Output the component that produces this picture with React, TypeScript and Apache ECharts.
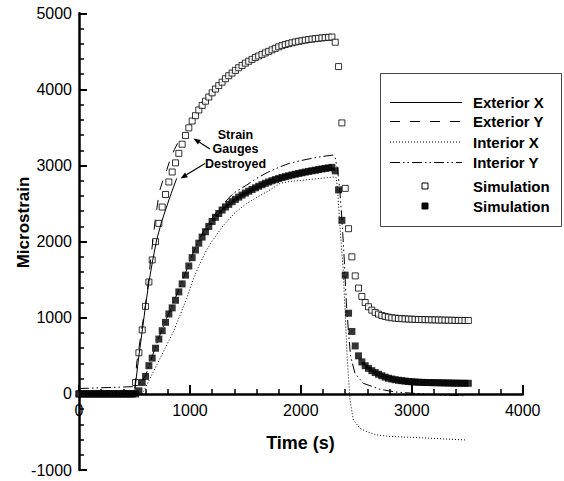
import React, { useEffect, useRef } from "react";
import * as echarts from "echarts";

// ---- data ----
const xTickMin = 0;
const xTickMax = 4000;
const xTickStep = 1000;
const yTickMin = -1000;
const yTickMax = 5000;
const yTickStep = 1000;

const simTime = [
  0, 30, 60, 90, 120, 150, 180, 210, 240, 270, 300, 330, 360, 390, 420, 450, 480,
  510, 540, 570, 600, 630, 660, 690, 720, 750, 780, 810, 840, 870, 900, 930, 960, 990,
  1020, 1050, 1080, 1110, 1140, 1170, 1200, 1230, 1260, 1290, 1320, 1350, 1380, 1410,
  1440, 1470, 1500, 1530, 1560, 1590, 1620, 1650, 1680, 1710, 1740, 1770, 1800, 1830,
  1860, 1890, 1920, 1950, 1980, 2010, 2040, 2070, 2100, 2130, 2160, 2190, 2220, 2250,
  2280, 2310, 2340, 2370, 2400, 2430, 2460, 2490, 2520, 2550, 2580, 2610, 2640, 2670,
  2700, 2730, 2760, 2790, 2820, 2850, 2880, 2910, 2940, 2970, 3000, 3030, 3060, 3090,
  3120, 3150, 3180, 3210, 3240, 3270, 3300, 3330, 3360, 3390, 3420, 3450, 3480, 3510,
];

const simOpen = [
  0, 0, 0, 0, 0, 0, 0, 0, 0, 0, 0, 0, 0, 0, 0, 0, 0,
  150, 540, 840, 1150, 1470, 1760, 2000, 2240, 2455, 2620, 2784, 2915, 3035, 3160, 3280, 3395, 3495,
  3585, 3655, 3730, 3790, 3845, 3900, 3955, 4005, 4050, 4095, 4140, 4180, 4215, 4250,
  4285, 4315, 4345, 4370, 4395, 4420, 4440, 4460, 4480, 4500, 4520, 4540, 4560, 4575,
  4590, 4602, 4613, 4623, 4632, 4640, 4648, 4655, 4661, 4667, 4672, 4677, 4681, 4685,
  4688, 4620, 4300, 3560, 2700, 2170, 1800, 1550, 1390, 1280, 1200, 1145, 1100, 1070,
  1048, 1030, 1017, 1008, 1000, 995, 991, 988, 985, 983, 981, 979, 977, 976,
  975, 974, 973, 972, 971, 970, 969, 968, 967, 966, 965, 965, 964, 964,
];

const simFilled = [
  0, 0, 0, 0, 0, 0, 0, 0, 0, 0, 0, 0, 0, 0, 0, 0, 0,
  0, 40, 150, 230, 370, 470, 600, 720, 830, 940, 1050, 1130, 1230, 1340, 1445, 1560, 1680,
  1790, 1890, 1980, 2060, 2130, 2200, 2265, 2320, 2370, 2415, 2455, 2490, 2525, 2555,
  2585, 2612, 2638, 2662, 2685, 2707, 2728, 2748, 2767, 2784, 2800, 2815, 2829, 2842,
  2854, 2865, 2876, 2886, 2896, 2905, 2914, 2923, 2931, 2939, 2947, 2955, 2962, 2969,
  2976, 2930, 2680, 2280, 1560, 1060, 820, 630, 500, 420, 370, 335, 305, 280,
  258, 238, 220, 206, 195, 186, 179, 173, 168, 163, 159, 156, 153, 151,
  150, 149, 148, 147, 146, 145, 144, 143, 142, 141, 140, 140, 139, 139,
];

const exteriorX = [
  [0, 0], [490, 0], [505, 60], [514, 183], [540, 500], [571, 840], [600, 1160],
  [631, 1474], [665, 1760], [700, 2022], [740, 2240], [782, 2425], [830, 2630], [881, 2832],
];

const exteriorY = [
  [0, 0], [490, 0], [505, 100], [520, 402], [565, 840], [610, 1277], [646, 1759],
  [685, 2262], [724, 2656], [760, 2820], [791, 2941], [820, 3073], [860, 3210], [911, 3358],
];

const interiorX = [
  [0, 0], [540, -10], [570, 0], [630, 171], [705, 391], [780, 610], [855, 830],
  [915, 1049], [975, 1268], [1020, 1470], [1080, 1680], [1140, 1860], [1200, 2010],
  [1300, 2210], [1400, 2370], [1500, 2490], [1600, 2580], [1700, 2660], [1815, 2767],
  [1900, 2790], [2000, 2805], [2100, 2820], [2200, 2835], [2300, 2850], [2320, 2840],
  [2335, 2600], [2350, 2250], [2365, 1950], [2380, 1671], [2400, 1050], [2419, 445],
  [2443, -80], [2473, -343], [2533, -452], [2600, -500], [2684, -540], [2800, -558],
  [2984, -570], [3200, -585], [3495, -606],
];

const interiorY = [
  [0, 70], [100, 75], [200, 80], [300, 85], [400, 90], [480, 95], [510, 100], [540, 130],
  [570, 180], [600, 240], [660, 490], [720, 740], [780, 960], [840, 1160], [900, 1370],
  [960, 1590], [1020, 1820], [1080, 2020], [1140, 2180], [1200, 2310], [1290, 2480],
  [1391, 2635], [1512, 2744], [1600, 2830], [1700, 2910], [1815, 2985], [1900, 3030],
  [2000, 3065], [2100, 3095], [2200, 3120], [2290, 3138], [2310, 3100], [2330, 2950],
  [2350, 2700], [2370, 2300], [2390, 1800], [2410, 1200], [2430, 800], [2449, 489],
  [2488, 271], [2563, 139], [2714, 60], [2850, 25], [3014, 8], [3200, -10], [3465, -24],
];

const legendLabels = ["Exterior X", "Exterior Y", "Interior X", "Interior Y", "Simulation", "Simulation"];
const annotationLines = ["Strain", "Gauges", "Destroyed"];
const xTitle = "Time (s)";
const yTitle = "Microstrain";

const FONT = '"Liberation Sans", Arial, Helvetica, sans-serif';
const DASHED = [10, 10];
const DOTTED = [1, 2];
const DASHDOT = [10, 3, 1.5, 3, 1.5, 3];

// layout
const GRID_LEFT = 79;
const GRID_RIGHT = 41.3;
const GRID_TOP = 13.3;
const GRID_BOTTOM = 11;
const PLOT_H = 481 - GRID_TOP - GRID_BOTTOM;
const ZERO_BOTTOM = GRID_BOTTOM + (PLOT_H * (0 - yTickMin)) / (yTickMax - yTickMin);

function arrow(x1: number, y1: number, x2: number, y2: number) {
  const dx = x2 - x1;
  const dy = y2 - y1;
  const L = Math.hypot(dx, dy);
  const ux = dx / L;
  const uy = dy / L;
  const hl = 7;
  const hw = 2.8;
  const bx = x2 - ux * hl;
  const by = y2 - uy * hl;
  return [
    { type: "line", shape: { x1, y1, x2: bx, y2: by }, style: { stroke: "#000", lineWidth: 1.2 } },
    {
      type: "polygon",
      shape: { points: [[x2, y2], [bx - uy * hw, by + ux * hw], [bx + uy * hw, by - ux * hw]] },
      style: { fill: "#000" },
    },
  ];
}

function buildLegend() {
  const els: any[] = [];
  els.push({
    type: "rect",
    shape: { x: 380.5, y: 73.5, width: 181, height: 153 },
    style: { fill: "#fff", stroke: "#444", lineWidth: 1 },
    z: 10,
  });
  const rowsY = [102.5, 121.5, 142, 162.5, 186, 206];
  const dashes: any[] = [null, DASHED, DOTTED, DASHDOT];
  legendLabels.forEach((label, i) => {
    const y = rowsY[i];
    if (i < 4) {
      els.push({
        type: "line",
        shape: { x1: 390, y1: y, x2: 462, y2: y },
        style: { stroke: "#000", lineWidth: 1, lineDash: dashes[i] || null },
        z: 11,
      });
    } else {
      els.push({
        type: "rect",
        shape: { x: 422, y: y - 3, width: 6, height: 6 },
        style: { fill: i === 4 ? "#fff" : "#000", stroke: "#000", lineWidth: 1 },
        z: 11,
      });
    }
    els.push({
      type: "text",
      x: 473,
      y,
      style: { text: label, font: `bold 15px ${FONT}`, fill: "#000", align: "left", verticalAlign: "middle" },
      z: 11,
    });
  });
  return els;
}

export default function App() {
  const ref = useRef<HTMLDivElement>(null);

  useEffect(() => {
    if (!ref.current) return;
    const chart = echarts.init(ref.current, null, { renderer: "svg" });

    const graphic: any[] = [
      ...buildLegend(),
      {
        type: "text",
        x: 300.5,
        y: 443,
        style: { text: xTitle, font: `bold 18px ${FONT}`, fill: "#000", align: "center", verticalAlign: "middle" },
      },
      {
        type: "text",
        x: 23.5,
        y: 222.5,
        rotation: Math.PI / 2,
        style: { text: yTitle, font: `bold 17px ${FONT}`, fill: "#000", align: "center", verticalAlign: "middle" },
      },
      ...annotationLines.map((t, i) => ({
        type: "text",
        x: 235.5,
        y: [135, 149, 163.5][i],
        style: { text: t, font: `bold 12.5px ${FONT}`, fill: "#000", align: "center", verticalAlign: "middle" },
      })),
      ...arrow(210, 149, 193.5, 138.5),
      ...arrow(205, 163.5, 180.5, 178.5),
    ];

    const tickStyle = { color: "#000", width: 2 };
    const minorStyle = { color: "#000", width: 1.5 };
    const labelStyle = { color: "#000", fontSize: 16, fontFamily: FONT };

    chart.setOption({
      animation: false,
      backgroundColor: "#fff",
      grid: [
        // data grid: full y range -1000..5000
        { left: GRID_LEFT, right: GRID_RIGHT, top: GRID_TOP, bottom: GRID_BOTTOM, containLabel: false, outerBoundsMode: "none" },
        // axis grid: its bottom edge sits on y = 0 of the data grid
        { left: GRID_LEFT, right: GRID_RIGHT, top: GRID_TOP, bottom: ZERO_BOTTOM, containLabel: false, outerBoundsMode: "none" },
      ],
      xAxis: [
        {
          gridIndex: 0,
          type: "value",
          min: xTickMin,
          max: xTickMax,
          interval: xTickStep,
          show: false,
          splitLine: { show: false },
        },
        {
          gridIndex: 1,
          type: "value",
          position: "bottom",
          min: xTickMin,
          max: xTickMax,
          interval: xTickStep,
          splitLine: { show: false },
          axisLine: { show: true, onZero: false, lineStyle: { color: "#000", width: 2.5 } },
          axisTick: { show: true, inside: true, length: 9, lineStyle: tickStyle },
          minorTick: { show: true, splitNumber: 5, length: 5, lineStyle: minorStyle },
          axisLabel: { ...labelStyle, margin: 9, formatter: (v: number) => String(v) },
        },
      ],
      yAxis: [
        {
          gridIndex: 0,
          type: "value",
          min: yTickMin,
          max: yTickMax,
          interval: yTickStep,
          splitLine: { show: false },
          axisLine: { show: true, onZero: false, lineStyle: { color: "#000", width: 2.5 } },
          axisTick: { show: true, inside: true, length: 8, lineStyle: tickStyle },
          minorTick: { show: true, splitNumber: 5, length: 5, lineStyle: minorStyle },
          axisLabel: { ...labelStyle, margin: 7, formatter: (v: number) => String(v) },
        },
        {
          gridIndex: 1,
          type: "value",
          min: 0,
          max: yTickMax,
          show: false,
          splitLine: { show: false },
        },
      ],
      series: [
        {
          name: "Simulation open",
          type: "scatter",
          symbol: "rect",
          symbolSize: 6,
          data: simTime.map((t, i) => [t, simOpen[i]]),
          itemStyle: { color: "#fff", borderColor: "#000", borderWidth: 1 },
          z: 2,
        },
        {
          name: "Simulation filled",
          type: "scatter",
          symbol: "rect",
          symbolSize: 7,
          data: simTime.map((t, i) => [t, simFilled[i]]),
          itemStyle: { color: "#000" },
          z: 3,
        },
        {
          name: "Exterior X",
          type: "line",
          data: exteriorX,
          symbol: "none",
          lineStyle: { color: "#000", width: 1 },
          z: 4,
        },
        {
          name: "Exterior Y",
          type: "line",
          data: exteriorY,
          symbol: "none",
          lineStyle: { color: "#000", width: 1, type: DASHED },
          z: 4,
        },
        {
          name: "Interior X",
          type: "line",
          data: interiorX,
          symbol: "none",
          lineStyle: { color: "#000", width: 1, type: DOTTED },
          z: 4,
        },
        {
          name: "Interior Y",
          type: "line",
          data: interiorY,
          symbol: "none",
          lineStyle: { color: "#000", width: 1, type: DASHDOT },
          z: 4,
        },
      ],
      graphic,
    });

    return () => chart.dispose();
  }, []);

  return (
    <div
      ref={ref}
      style={{ position: "absolute", left: 0, top: 0, width: 564, height: 481, background: "#fff" }}
    />
  );
}
